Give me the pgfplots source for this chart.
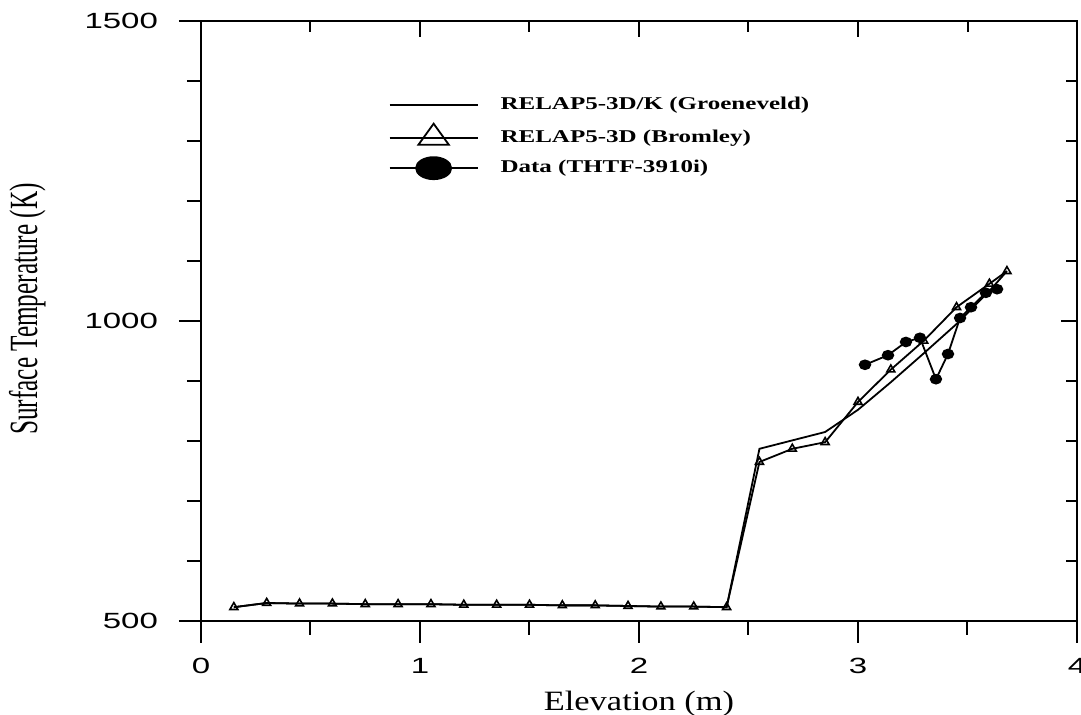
\documentclass[border=0pt]{standalone}
\usepackage{fontspec}
\usepackage{pgfplots}
\pgfplotsset{compat=1.18}
\setmainfont{Liberation Serif}
\newfontfamily\tickfont[FakeStretch=1.5]{Liberation Sans}
\newfontfamily\ylabfont[FakeStretch=0.63]{Liberation Serif}
\newfontfamily\xlabfont[FakeStretch=1.23]{Liberation Serif}
\newfontfamily\legfont[FakeStretch=1.39]{Liberation Serif}
\begin{document}
\begin{tikzpicture}
\begin{axis}[name=main, scale only axis, width=438pt, height=300pt,
  xmin=0, xmax=4, ymin=500, ymax=1500,
  axis line style={line width=1pt},
  xtick={0,1,2,3,4}, minor xtick={0.5,1.5,2.5,3.5},
  ytick={500,1000,1500}, minor ytick={600,700,800,900,1100,1200,1300,1400},
  xtick pos=bottom, ytick pos=left, tick align=outside,
  major tick length=11pt, minor tick length=7pt,
  every tick/.style={line width=1pt, black},
  minor tick style={line width=1pt, black},
  ticklabel style={font=\fontsize{11}{12}\selectfont\tickfont},
  xticklabel style={yshift=-4pt},
  yticklabel style={xshift=-7pt},
  /pgf/number format/assume math mode=true,
  /pgf/number format/1000 sep={},
  xlabel={Elevation (m)},
  xlabel style={font=\fontsize{14}{16}\selectfont\xlabfont, at={(axis description cs:0.5,-0.15)}, anchor=base},
  ylabel={Surface Temperature (K)},
  ylabel style={font=\fontsize{20}{24}\selectfont\ylabfont, at={(axis description cs:-0.1872,0.52)}, anchor=base},
  legend style={draw=none, fill=none, at={(rel axis cs:0.207,0.887)}, anchor=north west,
    font=\fontsize{9}{11}\selectfont\legfont\bfseries, row sep=3.5pt},
  legend cell align=left,
  legend image code/.code={\draw[mark repeat=2,mark phase=2,#1] plot coordinates {(0pt,0pt) (22pt,0pt) (44pt,0pt)};},
]
\addlegendimage{black, line width=0.9pt, no marks}
\addlegendentry{\hspace*{9pt}RELAP5-3D/K (Groeneveld)}
\addlegendimage{black, line width=0.9pt, mark=triangle, mark size=7pt, mark options={xscale=1.25, fill=white, line width=0.9pt}}
\addlegendentry{\hspace*{9pt}RELAP5-3D (Bromley)}
\addlegendimage{black, line width=0.9pt, mark=*, mark size=5.5pt, mark options={xscale=1.6}}
\addlegendentry{\hspace*{9pt}Data (THTF-3910i)}

% Groeneveld
\addplot[black, line width=0.9pt, no marks, forget plot] coordinates {
(0.15,523) (0.30,530) (0.45,529) (0.60,529) (0.75,528) (0.90,528) (1.05,528) (1.20,527)
(1.35,527) (1.50,527) (1.65,526) (1.80,526) (1.95,525) (2.10,524) (2.25,524) (2.40,523)
(2.55,787) (2.70,801) (2.85,815) (3.00,852) (3.15,898) (3.30,946) (3.45,995) (3.60,1050) (3.68,1083)};
% Bromley
\addplot[black, line width=0.9pt, mark=triangle, mark size=2.3pt, mark options={fill=white, line width=0.8pt}, forget plot] coordinates {
(0.15,523) (0.30,530) (0.45,529) (0.60,529) (0.75,528) (0.90,528) (1.05,528) (1.20,527)
(1.35,527) (1.50,527) (1.65,526) (1.80,526) (1.95,525) (2.10,524) (2.25,524) (2.40,523)
(2.55,765) (2.70,787) (2.85,798) (3.00,865) (3.15,919) (3.30,967) (3.45,1023) (3.60,1062) (3.68,1083)};
% Data
\addplot[black, line width=0.9pt, mark=*, mark size=2.2pt, mark options={xscale=1.2}, forget plot] coordinates {
(3.032,927) (3.137,943) (3.219,965) (3.283,972) (3.356,903) (3.411,945) (3.466,1005) (3.516,1023) (3.584,1047) (3.635,1053)};
\end{axis}
\begin{axis}[scale only axis, width=438pt, height=300pt,
  xmin=0, xmax=4, ymin=500, ymax=1500,
  axis line style={line width=1pt},
  xtick={0,1,2,3,4}, minor xtick={0.5,1.5,2.5,3.5},
  ytick={500,1000,1500}, minor ytick={600,700,800,900,1100,1200,1300,1400},
  xtick pos=top, ytick pos=right, tick align=inside,
  major tick length=8pt, minor tick length=5.5pt,
  every tick/.style={line width=1pt, black},
  minor tick style={line width=1pt, black},
  xticklabels={}, yticklabels={},
]
\end{axis}
\pgfresetboundingbox
\path[use as bounding box] ([shift={(-100.5pt,-47pt)}]main.south west) rectangle ([shift={(2pt,10.5pt)}]main.north east);
\end{tikzpicture}
\end{document}
